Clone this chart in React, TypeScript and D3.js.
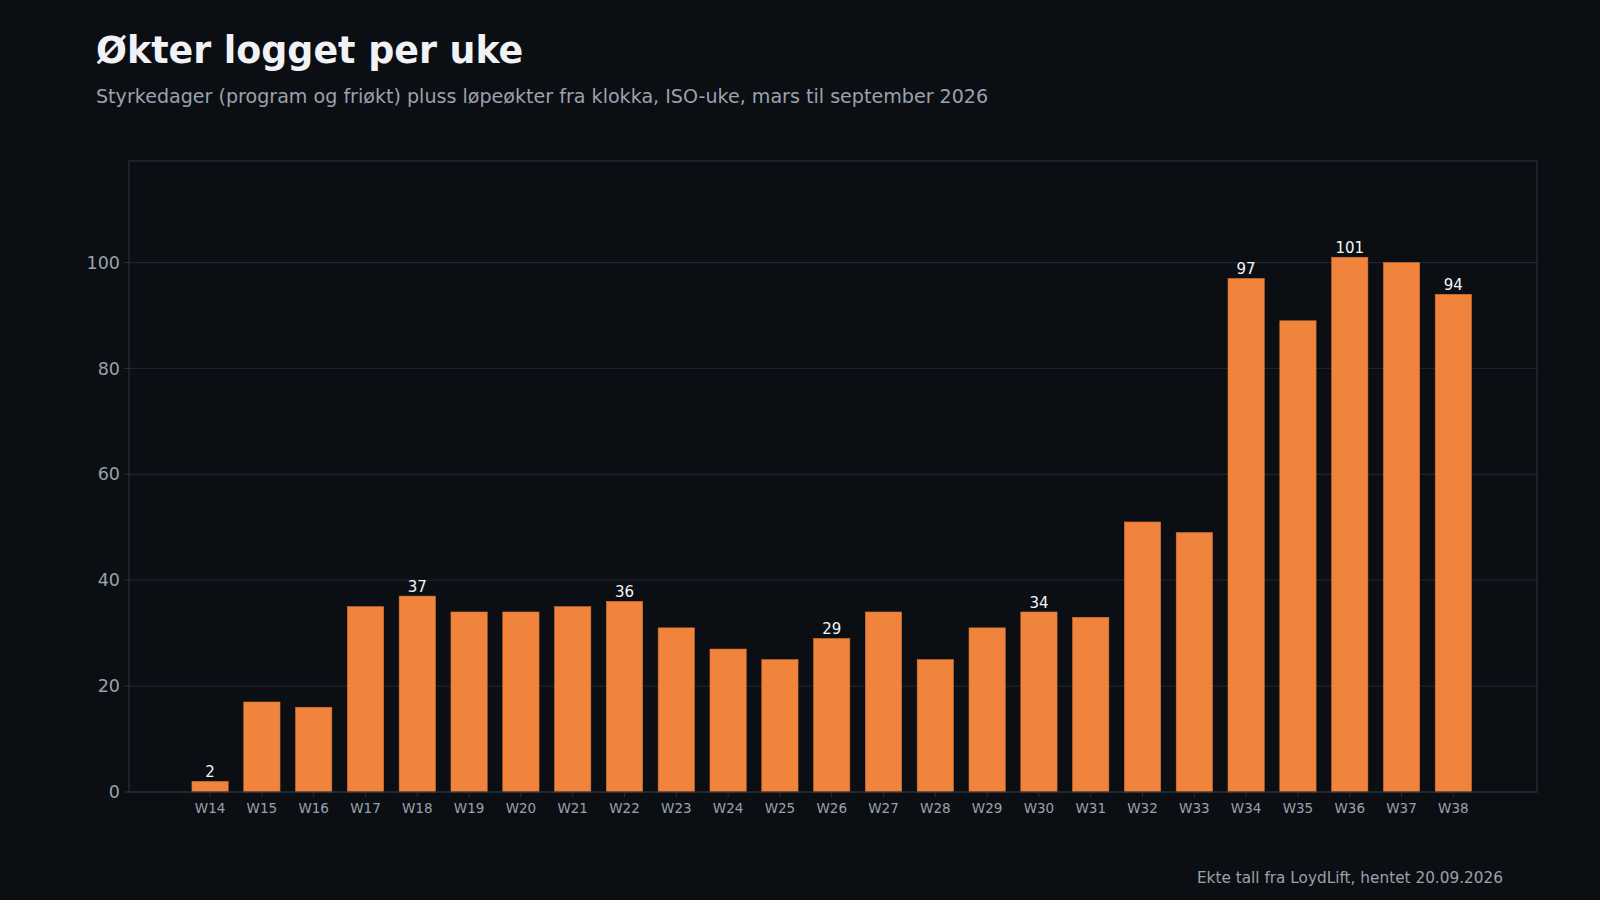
import * as d3 from "d3";
import { useEffect } from "react";

const weeks = [
  "W14", "W15", "W16", "W17", "W18", "W19", "W20", "W21", "W22", "W23", "W24", "W25", "W26",
  "W27", "W28", "W29", "W30", "W31", "W32", "W33", "W34", "W35", "W36", "W37", "W38",
];
const sessions = [
  2, 17, 16, 35, 37, 34, 34, 35, 36, 31, 27, 25, 29,
  34, 25, 31, 34, 33, 51, 49, 97, 89, 101, 100, 94,
];
// weeks that get a value label above the bar
const labelledWeeks = ["W14", "W18", "W22", "W26", "W30", "W34", "W36", "W38"];
const yTicks = [0, 20, 40, 60, 80, 100];

const title = "Økter logget per uke";
const subtitle =
  "Styrkedager (program og friøkt) pluss løpeøkter fra klokka, ISO-uke, mars til september 2026";
const footer = "Ekte tall fra LoydLift, hentet 20.09.2026";

const W = 1600;
const H = 900;
const margin = { top: 161, right: 63, bottom: 108, left: 129 };

const BG = "#0b0e13";
const BAR = "#f0843c";
const GRID = "#1d242e";
const FRAME = "#2a313b";
const MUTED = "#9aa2ad";
const FONT = "DejaVu Sans, sans-serif";

export default function App() {
  useEffect(() => {
    document.body.style.margin = "0";
    document.body.style.background = BG;
  }, []);

  const x = d3
    .scaleBand<string>()
    .domain(weeks)
    .range([margin.left, W - margin.right])
    .paddingInner(0.3)
    .paddingOuter(1.24)
    .align(0.49);

  const yMax = d3.max(sessions)! * 1.18;
  const y = d3
    .scaleLinear()
    .domain([0, yMax])
    .range([H - margin.bottom, margin.top]);

  const data = weeks.map((w, i) => ({ week: w, value: sessions[i] }));
  const plotW = W - margin.left - margin.right;
  const plotH = H - margin.top - margin.bottom;

  return (
    <svg width={W} height={H} style={{ display: "block", background: BG }} fontFamily={FONT}>
      <rect width={W} height={H} fill={BG} />

      <text x={96} y={63} fill="#f0f2f5" fontSize={36.4} fontWeight="bold">
        {title}
      </text>
      <text x={96} y={103} fill={MUTED} fontSize={19.1}>
        {subtitle}
      </text>

      {/* grid */}
      {yTicks.map((t) => (
        <line
          key={"g" + t}
          x1={margin.left}
          x2={W - margin.right}
          y1={y(t)}
          y2={y(t)}
          stroke={GRID}
          strokeWidth={1.2}
        />
      ))}

      {/* bars */}
      {data.map((d) => (
        <rect
          key={d.week}
          x={x(d.week)}
          y={y(d.value)}
          width={x.bandwidth()}
          height={y(0) - y(d.value)}
          fill={BAR}
          stroke="#d8732f"
          strokeWidth={0.6}
        />
      ))}

      {/* value labels */}
      {data
        .filter((d) => labelledWeeks.includes(d.week))
        .map((d) => (
          <text
            key={"l" + d.week}
            x={x(d.week)! + x.bandwidth() / 2}
            y={y(d.value) - 4}
            textAnchor="middle"
            fill="#f3f5f8"
            fontSize={15}
          >
            {d.value}
          </text>
        ))}

      {/* frame */}
      <rect
        x={margin.left}
        y={margin.top}
        width={plotW}
        height={plotH}
        fill="none"
        stroke={FRAME}
        strokeWidth={1.2}
      />

      {/* y axis */}
      {yTicks.map((t) => (
        <g key={"y" + t}>
          <line x1={margin.left - 5} x2={margin.left} y1={y(t)} y2={y(t)} stroke={FRAME} />
          <text
            x={margin.left - 9}
            y={y(t)}
            dy="0.35em"
            textAnchor="end"
            fill={MUTED}
            fontSize={17.5}
          >
            {t}
          </text>
        </g>
      ))}

      {/* x axis */}
      {weeks.map((w) => {
        const cx = x(w)! + x.bandwidth() / 2;
        return (
          <g key={"x" + w}>
            <line x1={cx} x2={cx} y1={H - margin.bottom} y2={H - margin.bottom + 5} stroke={FRAME} />
            <text x={cx} y={H - margin.bottom + 21} textAnchor="middle" fill={MUTED} fontSize={13.5}>
              {w}
            </text>
          </g>
        );
      })}

      <text x={1503} y={883} textAnchor="end" fill={MUTED} fontSize={15.3}>
        {footer}
      </text>
    </svg>
  );
}
